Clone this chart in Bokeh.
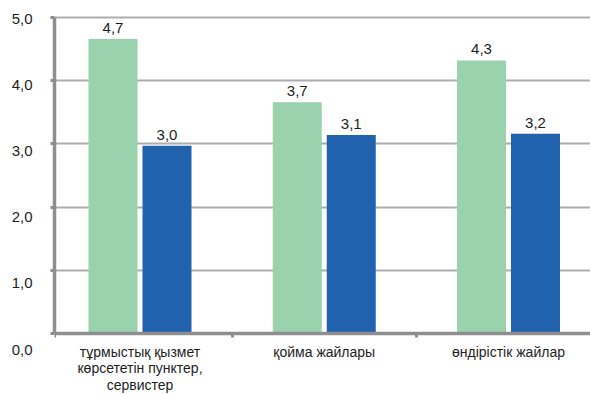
from bokeh.plotting import figure
from bokeh.models import Range1d, LinearAxis, FixedTicker, Grid, ColumnDataSource
from bokeh.transform import dodge
from bokeh.core.properties import value
from bokeh.embed import file_html
from bokeh.resources import INLINE

# ---------------- data ----------------
categories = [
    "тұрмыстық қызмет\nкөрсететін пунктер,\nсервистер",
    "қойма жайлары",
    "өндірістік жайлар",
]
series_green = [4.66, 3.66, 4.32]
series_blue = [2.97, 3.14, 3.16]
y_ticks = [0, 1, 2, 3, 4, 5]
y_tick_labels = ["0,0", "1,0", "2,0", "3,0", "4,0", "5,0"]


def fmt(v):
    return f"{v:.1f}".replace(".", ",")


# ---------------- layout constants (canvas px) ----------------
FONT = "Liberation Sans"
W, H = 590, 394
FRAME_LEFT, FRAME_TOP, FRAME_BOTTOM = 54, 0, 394
ZERO_PX, FIVE_PX = 333, 17          # main scale: value 0 and value 5
LAB_ZERO_PX, LAB_FIVE_PX = 349, 18  # tick-label positions (3-D perspective offset)
GROUP0_PX, GROUP_STEP = 139.5, 184.25

ppu = (ZERO_PX - FIVE_PX) / 5.0
y_start = -(FRAME_BOTTOM - ZERO_PX) / ppu
y_end = (ZERO_PX - FRAME_TOP) / ppu
lppu = (LAB_ZERO_PX - LAB_FIVE_PX) / 5.0
lab_start = (LAB_ZERO_PX - FRAME_BOTTOM) / lppu
lab_end = (LAB_ZERO_PX - FRAME_TOP) / lppu
x_start = (FRAME_LEFT - GROUP0_PX) / GROUP_STEP
x_end = x_start + (W - FRAME_LEFT) / GROUP_STEP

BAR_W = 49 / GROUP_STEP
BAR_OFF = 27 / GROUP_STEP

GREEN = "#9AD2AD"
BLUE = "#2162AF"
AXIS_C = "#8E8E8E"
GRID_C = "#ADADAD"
TEXT_C = "#1E1E1E"

src = ColumnDataSource(dict(
    idx=list(range(len(categories))),
    green=series_green,
    blue=series_blue,
    green_lbl=[fmt(v) for v in series_green],
    blue_lbl=[fmt(v) for v in series_blue],
))

p = figure(width=W, height=H,
           x_range=Range1d(x_start, x_end), y_range=Range1d(y_start, y_end),
           output_backend="svg", toolbar_location=None,
           x_axis_location=None, y_axis_location=None,
           min_border_left=FRAME_LEFT, min_border_right=0,
           min_border_top=FRAME_TOP, min_border_bottom=H - FRAME_BOTTOM,
           outline_line_color=None, background_fill_color="white",
           border_fill_color="white")
p.center = []
p.extra_y_ranges = {"lab": Range1d(lab_start, lab_end)}

grid = Grid(dimension=1, ticker=FixedTicker(ticks=y_ticks[1:]),
            grid_line_color=GRID_C, grid_line_width=2)
p.add_layout(grid)

p.vbar(x=dodge("idx", -BAR_OFF), top="green", bottom=0, width=BAR_W,
       source=src, fill_color=GREEN, line_color=None)
p.vbar(x=dodge("idx", BAR_OFF), top="blue", bottom=0, width=BAR_W,
       source=src, fill_color=BLUE, line_color=None)

for fld, off in (("green", -BAR_OFF), ("blue", BAR_OFF)):
    p.text(x=dodge("idx", off), y=fld, text=fld + "_lbl", source=src,
           text_align="center", text_baseline="alphabetic", y_offset=-11,
           text_font=value(FONT), text_font_size="15px", text_color=TEXT_C)

# left axis: line + stubs
yaxis = LinearAxis(ticker=FixedTicker(ticks=[], minor_ticks=y_ticks),
                   bounds=(0, 5), axis_line_color=AXIS_C, axis_line_width=3.5,
                   major_tick_out=0, major_tick_in=0, major_label_standoff=0,
                   minor_tick_out=4, minor_tick_in=0,
                   minor_tick_line_color=AXIS_C, minor_tick_line_width=3)
p.add_layout(yaxis, "left")

# left axis: labels (own range: 3-D perspective puts them a little lower)
ylab = LinearAxis(y_range_name="lab", ticker=FixedTicker(ticks=y_ticks),
                  major_label_overrides={t: l for t, l in zip(y_ticks, y_tick_labels)},
                  axis_line_color=None, major_tick_line_color=None,
                  minor_tick_line_color=None, major_tick_out=0, major_tick_in=0,
                  major_label_standoff=18,
                  major_label_text_font=FONT, major_label_text_font_size="15px",
                  major_label_text_color=TEXT_C)
p.add_layout(ylab, "left")

# bottom axis, pinned at value 0
xaxis = LinearAxis(ticker=FixedTicker(ticks=list(range(len(categories))),
                                      minor_ticks=[x_start, 0.5, 1.5]),
                   fixed_location=0,
                   major_label_overrides={i: c for i, c in enumerate(categories)},
                   axis_line_color=AXIS_C, axis_line_width=3.5,
                   major_tick_line_color=None, major_tick_out=0, major_tick_in=0,
                   minor_tick_out=4, minor_tick_in=0,
                   minor_tick_line_color=AXIS_C, minor_tick_line_width=3,
                   major_label_standoff=6,
                   major_label_text_font=FONT, major_label_text_font_size="14px",
                   major_label_text_color=TEXT_C,
                   major_label_text_line_height=1.05)
p.add_layout(xaxis, "below")

open("out.html", "w").write(file_html(p, INLINE))
